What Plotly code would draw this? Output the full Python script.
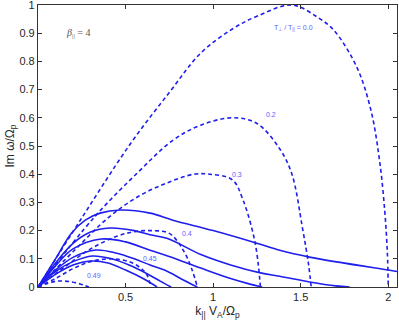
import plotly.graph_objects as go

# Dashed curves (T_perp/T_par labels)
d00_x = [0, 0.25, 0.53, 0.75, 0.93, 1.11, 1.25, 1.45, 1.6, 1.69, 1.82, 1.9, 1.95, 1.98, 1.995, 2.0]
d00_y = [0, 0.245, 0.51, 0.69, 0.83, 0.915, 0.96, 1.0, 0.955, 0.91, 0.78, 0.63, 0.45, 0.27, 0.12, 0]
d02_x = [0, 0.325, 0.56, 0.77, 0.93, 1.11, 1.25, 1.38, 1.45, 1.51, 1.545, 1.56]
d02_y = [0, 0.25, 0.40, 0.52, 0.574, 0.6, 0.58, 0.49, 0.40, 0.21, 0.08, 0]
d03_x = [0, 0.2, 0.4, 0.57, 0.74, 0.89, 0.98, 1.11, 1.17, 1.24, 1.27]
d03_y = [0, 0.125, 0.245, 0.32, 0.37, 0.40, 0.40, 0.38, 0.31, 0.156, 0]
d04_x = [0, 0.15, 0.3, 0.45, 0.55, 0.64, 0.75, 0.83, 0.88, 0.91]
d04_y = [0, 0.07, 0.135, 0.18, 0.196, 0.2, 0.19, 0.13, 0.06, 0]
d045_x = [0, 0.1, 0.2, 0.3, 0.42, 0.52, 0.58, 0.62, 0.645]
d045_y = [0, 0.03, 0.065, 0.09, 0.1, 0.09, 0.07, 0.045, 0]
d049_x = [0, 0.05, 0.11, 0.18, 0.24, 0.27, 0.29]
d049_y = [0, 0.012, 0.021, 0.019, 0.011, 0.005, 0]

# Solid curves
s1_x = [0, 0.1, 0.19, 0.27, 0.354, 0.47, 0.64, 0.77, 1.0, 1.25, 1.38, 1.55, 2.0, 2.05]
s1_y = [0, 0.1, 0.19, 0.237, 0.262, 0.273, 0.262, 0.237, 0.2, 0.155, 0.13, 0.106, 0.06, 0.055]
s2_x = [0, 0.1, 0.2, 0.3, 0.41, 0.55, 0.64, 0.74, 0.93, 1.1, 1.27, 1.38, 1.55, 1.7, 1.78]
s2_y = [0, 0.085, 0.155, 0.195, 0.209, 0.2, 0.185, 0.172, 0.115, 0.078, 0.05, 0.038, 0.018, 0.004, 0]
s3_x = [0, 0.1, 0.2, 0.36, 0.5, 0.64, 0.74, 0.93, 1.1, 1.2, 1.28]
s3_y = [0, 0.075, 0.135, 0.17, 0.16, 0.13, 0.11, 0.067, 0.03, 0.012, 0]
s4_x = [0, 0.1, 0.2, 0.33, 0.45, 0.55, 0.64, 0.74, 0.83, 0.91]
s4_y = [0, 0.06, 0.105, 0.131, 0.12, 0.1, 0.078, 0.055, 0.025, 0]
s5_x = [0, 0.1, 0.2, 0.31, 0.42, 0.52, 0.62, 0.7, 0.76]
s5_y = [0, 0.055, 0.09, 0.11, 0.1, 0.078, 0.048, 0.02, 0]
s6_x = [0, 0.1, 0.2, 0.3, 0.4, 0.5, 0.6, 0.68]
s6_y = [0, 0.045, 0.078, 0.092, 0.085, 0.06, 0.03, 0]

label_text = ["T<sub>⊥</sub> / T<sub>||</sub> = 0.0", "0.2", "0.3", "0.4", "0.45", "0.49"]
label_x = [1.46, 1.33, 1.137, 0.85, 0.64, 0.32]
label_y = [0.92, 0.61, 0.40, 0.19, 0.10, 0.04]

x_ticks = [0.5, 1, 1.5, 2]
y_ticks = [0, 0.1, 0.2, 0.3, 0.4, 0.5, 0.6, 0.7, 0.8, 0.9, 1]
y_tick_text = ["0", "0.1", "0.2", "0.3", "0.4", "0.5", "0.6", "0.7", "0.8", "0.9", "1"]

BLUE = "#1e1eee"

fig = go.Figure()
for xs, ys in [(d00_x, d00_y), (d02_x, d02_y), (d03_x, d03_y), (d04_x, d04_y), (d045_x, d045_y), (d049_x, d049_y)]:
    fig.add_trace(go.Scatter(x=xs, y=ys, mode="lines", line=dict(color=BLUE, width=1.6, dash="4px,3px", shape="spline", smoothing=1.0), showlegend=False, hoverinfo="skip"))
for xs, ys in [(s1_x, s1_y), (s2_x, s2_y), (s3_x, s3_y), (s4_x, s4_y), (s5_x, s5_y), (s6_x, s6_y)]:
    fig.add_trace(go.Scatter(x=xs, y=ys, mode="lines", line=dict(color=BLUE, width=1.6, shape="spline", smoothing=1.0), showlegend=False, hoverinfo="skip"))

for t, x, y in zip(label_text, label_x, label_y):
    fig.add_annotation(x=x, y=y, text=t, showarrow=False, font=dict(family="Liberation Sans, Arial", size=7, color="#6060ff"))

fig.add_annotation(x=0.23, y=0.9, text="<i>β</i><sub>||</sub> = 4", showarrow=False,
                   font=dict(family="Liberation Serif, Times New Roman", size=10, color="#555555"))

axis_common = dict(showline=True, mirror="ticks", linecolor="#333333", linewidth=1.2,
                   ticks="inside", ticklen=4, tickcolor="#333333", showgrid=False, zeroline=False,
                   automargin=False, ticklabeloverflow="allow",
                   tickfont=dict(family="Liberation Sans, Arial", size=11, color="#262626"))

fig.update_layout(
    width=399, height=323,
    margin=dict(l=38, r=2, t=5, b=36),
    paper_bgcolor="white", plot_bgcolor="white",
    xaxis=dict(range=[0, 2.05], tickvals=x_ticks, ticktext=["0.5", "1", "1.5", "2"],
               title=dict(text="k<sub>||</sub> V<sub>A</sub>/Ω<sub>p</sub>", standoff=4,
                          font=dict(family="Liberation Sans, Arial", size=12, color="#262626")),
               **axis_common),
    yaxis=dict(range=[0, 1], tickvals=y_ticks, ticktext=y_tick_text,
               title=dict(text="Im ω/Ω<sub>p</sub>", standoff=2,
                          font=dict(family="Liberation Sans, Arial", size=12, color="#262626")),
               **axis_common),
)

fig.write_html("out.html", config={"displayModeBar": False},
               post_script="document.body.style.margin='0';")
